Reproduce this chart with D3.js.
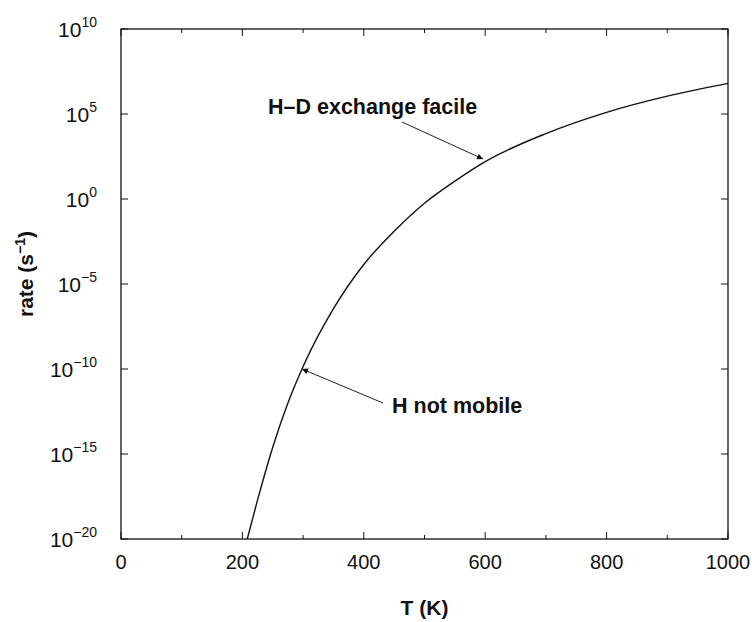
<!DOCTYPE html>
<html>
<head>
<meta charset="utf-8">
<script src="https://cdn.jsdelivr.net/npm/d3@7"></script>
<style>
  body { margin: 0; background: #fff; }
  svg text { font-family: "Liberation Sans", Arial, sans-serif; fill: #111; }
</style>
</head>
<body>
<svg id="chart" width="752" height="622"></svg>
<script>
// temperatures (K) and log10 of the rate (s^-1)
const temps    = [208, 225, 250, 275, 300, 350, 400, 450, 500, 550, 600, 700, 800, 900, 1000];
const logRates = [-20, -17.7, -14.6, -12.0, -9.85, -6.45, -3.85, -1.9, -0.25, 1.05, 2.2, 3.85, 5.1, 6.05, 6.8];

const xMajor = [0, 200, 400, 600, 800, 1000];
const xMinor = [100, 300, 500, 700, 900];
const yExps  = [10, 5, 0, -5, -10, -15, -20];

const notes = [
	{ text: 'H\u2013D exchange facile', tx: 268, ty: 114, from: [402, 122], to: [483, 159] },
	{ text: 'H not mobile',             tx: 392, ty: 413, from: [383, 403], to: [302, 369] }
];

const svg	= d3.select('#chart');
const margin	= { top: 29, right: 24, bottom: 83, left: 121 };
const width	= 752 - margin.left - margin.right;
const height	= 622 - margin.top - margin.bottom;

const x = d3.scaleLinear().domain([0, 1000]).range([0, width]);
const y = d3.scaleLog().domain([1e-20, 1e10]).range([height, 0]);

const g = svg.append('g').attr('transform', 'translate(' + margin.left + ',' + margin.top + ')');

svg.append('defs').append('marker')
	.attr('id', 'head').attr('viewBox', '0 0 10 10').attr('refX', 10).attr('refY', 5)
	.attr('markerWidth', 8).attr('markerHeight', 6).attr('orient', 'auto').attr('markerUnits', 'userSpaceOnUse')
	.append('path').attr('d', 'M0,0L10,5L0,10z').attr('fill', '#111');

// frame
g.append('rect').attr('width', width).attr('height', height)
	.attr('fill', 'none').attr('stroke', '#111').attr('stroke-width', 1.3);

// inward ticks on all four sides
const tickStyle = sel => sel.attr('stroke', '#111').attr('stroke-width', 1);

xMajor.concat(xMinor).forEach(t => {
	let len = xMajor.includes(t) ? 7 : 4;
	g.append('line').call(tickStyle).attr('x1', x(t)).attr('x2', x(t)).attr('y1', height).attr('y2', height - len);
	g.append('line').call(tickStyle).attr('x1', x(t)).attr('x2', x(t)).attr('y1', 0).attr('y2', len);
});

yExps.forEach(e => {
	let yy = y(Math.pow(10, e));
	g.append('line').call(tickStyle).attr('x1', 0).attr('x2', 7).attr('y1', yy).attr('y2', yy);
	g.append('line').call(tickStyle).attr('x1', width).attr('x2', width - 7).attr('y1', yy).attr('y2', yy);
});

// x tick labels
g.selectAll('.xlab').data(xMajor).join('text')
	.attr('class', 'xlab')
	.attr('x', d => x(d)).attr('y', height + 30)
	.attr('text-anchor', 'middle').style('font-size', '20px')
	.text(d => d);

// y tick labels: 10 with superscript exponent
yExps.forEach(e => {
	let t = g.append('text')
		.attr('x', -24).attr('y', y(Math.pow(10, e)) + 8)
		.attr('text-anchor', 'end').style('font-size', '21px');
	t.append('tspan').text('10');
	t.append('tspan').attr('dy', -10).style('font-size', '14px').text(String(e).replace('-', '\u2212'));
});

// axis titles
g.append('text')
	.attr('x', width / 2).attr('y', height + 76)
	.attr('text-anchor', 'middle').style('font-size', '21px').style('font-weight', 'bold')
	.text('T (K)');

let yt = g.append('text')
	.attr('transform', 'translate(' + (-88) + ',' + (height / 2 - 10) + ') rotate(-90)')
	.attr('text-anchor', 'middle').style('font-size', '21px').style('font-weight', 'bold');
yt.append('tspan').text('rate (s');
yt.append('tspan').attr('dy', -8).style('font-size', '14px').text('\u22121');
yt.append('tspan').attr('dy', 8).text(')');

// the curve
const line = d3.line()
	.x((d, i) => x(temps[i]))
	.y(d => y(Math.pow(10, d)))
	.curve(d3.curveMonotoneX);

g.append('path').datum(logRates)
	.attr('d', line)
	.attr('fill', 'none').attr('stroke', '#111').attr('stroke-width', 1.4);

// annotations
notes.forEach(n => {
	svg.append('line')
		.attr('x1', n.from[0]).attr('y1', n.from[1]).attr('x2', n.to[0]).attr('y2', n.to[1])
		.attr('stroke', '#222').attr('stroke-width', 1).attr('marker-end', 'url(#head)');
	svg.append('text')
		.attr('x', n.tx).attr('y', n.ty)
		.style('font-size', '21.5px').style('font-weight', 'bold')
		.text(n.text);
});
</script>
</body>
</html>
